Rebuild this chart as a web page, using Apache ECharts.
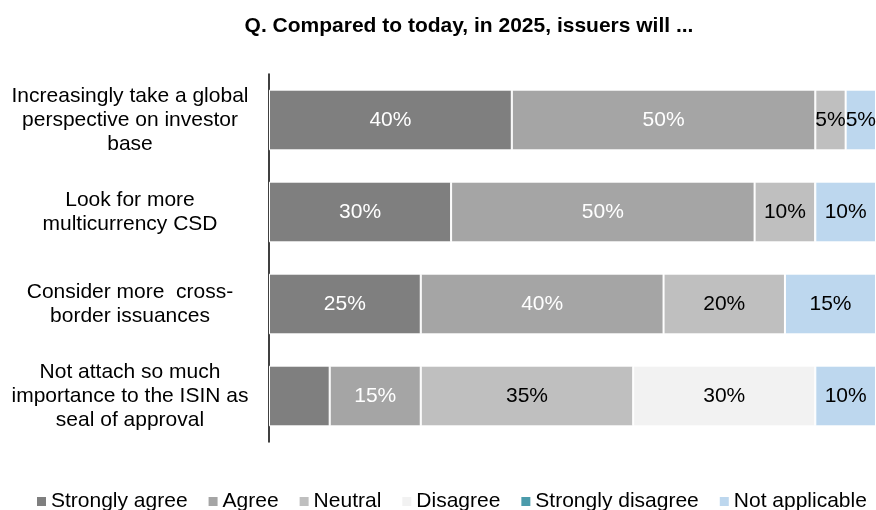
<!DOCTYPE html>
<html>
<head>
<meta charset="utf-8">
<script src="https://cdn.jsdelivr.net/npm/echarts@6/dist/echarts.min.js"></script>
<style>
  html, body { margin: 0; padding: 0; background: #fff; }
  #chart { width: 876px; height: 510px; }
</style>
</head>
<body>
<div id="chart"></div>
<script>
// Survey statements (top to bottom)
const statements = [
  'Increasingly take a global\nperspective on investor\nbase',
  'Look for more\nmulticurrency CSD',
  'Consider more  cross-\nborder issuances',
  'Not attach so much\nimportance to the ISIN as\nseal of approval'
];

// Share of respondents per answer, in %
const stronglyAgree    = [40, 30, 25, 10];
const agree            = [50, 50, 40, 15];
const neutral          = [5, 10, 20, 35];
const disagree         = [0, 0, 0, 30];
const stronglyDisagree = [0, 0, 0, 0];
const notApplicable    = [5, 10, 15, 10];

// Segments whose value label is left off
const hiddenLabels = { 'Strongly agree': [3] };

const answers = [
  { name: 'Strongly agree',    values: stronglyAgree,    color: '#7f7f7f', text: '#ffffff' },
  { name: 'Agree',             values: agree,            color: '#a5a5a5', text: '#ffffff' },
  { name: 'Neutral',           values: neutral,          color: '#bfbfbf', text: '#000000' },
  { name: 'Disagree',          values: disagree,         color: '#f2f2f2', text: '#000000' },
  { name: 'Strongly disagree', values: stronglyDisagree, color: '#4b9bab', text: '#ffffff' },
  { name: 'Not applicable',    values: notApplicable,    color: '#bdd7ee', text: '#000000' }
];

const font = 'Liberation Sans, Arial, sans-serif';

const series = answers.map(a => ({
  name: a.name,
  type: 'bar',
  stack: 'total',
  barWidth: '66%',
  itemStyle: { color: a.color, borderColor: '#ffffff', borderWidth: 1 },
  label: {
    show: true,
    position: 'inside',
    color: a.text,
    fontFamily: font,
    fontSize: 21,
    formatter: p => p.value > 0 ? p.value + '%' : ''
  },
  data: a.values.map((v, i) => {
    const hide = (hiddenLabels[a.name] || []).includes(i);
    return hide ? { value: v, label: { show: false } } : v;
  })
}));

const chart = echarts.init(document.getElementById('chart'), null, { renderer: 'canvas' });
chart.setOption({
  animation: false,
  title: {
    text: 'Q. Compared to today, in 2025, issuers will ...',
    left: 464,
    textAlign: 'center',
    top: 11,
    textStyle: { fontFamily: font, fontSize: 21, fontWeight: 'bold', color: '#000' }
  },
  legend: {
    left: 35,
    top: 491,
    width: 880,
    padding: 0,
    icon: 'rect',
    itemWidth: 11,
    itemHeight: 11,
    itemGap: 19,
    textStyle: { fontFamily: font, fontSize: 21, color: '#000', padding: [0, 0, 0, -1] },
    data: answers.map(a => a.name)
  },
  grid: { left: 269, right: -5, top: 74, bottom: 68, containLabel: false },
  xAxis: {
    type: 'value',
    min: 0,
    max: 100,
    show: false
  },
  yAxis: {
    type: 'category',
    inverse: true,
    data: statements,
    axisLine: { show: true, lineStyle: { color: '#000', width: 1.5 } },
    axisTick: { show: false },
    axisLabel: {
      align: 'center',
      margin: 139,
      fontFamily: font,
      fontSize: 21,
      lineHeight: 24,
      color: '#000'
    }
  },
  series: series
});
</script>
</body>
</html>
